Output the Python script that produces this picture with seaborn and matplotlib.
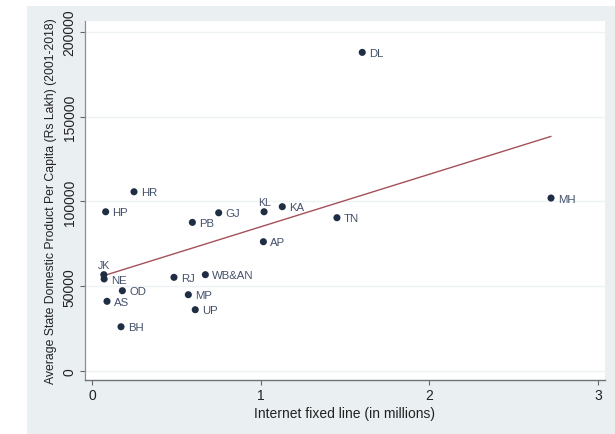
import numpy as np
import pandas as pd
import seaborn as sns
import matplotlib
matplotlib.use("Agg")
import matplotlib.pyplot as plt
from matplotlib.patches import Rectangle

# State-level internet fixed-line subscriptions vs. average per-capita SDP
states = ["DL", "MH", "HR", "HP", "GJ", "PB", "KL", "KA", "AP", "TN",
          "JK", "NE", "RJ", "WB&AN", "OD", "AS", "MP", "UP", "BH"]
internet_fixed = [1.602, 2.721, 0.249, 0.081, 0.751, 0.595, 1.020, 1.128, 1.016, 1.452,
                  0.070, 0.072, 0.486, 0.672, 0.180, 0.089, 0.571, 0.612, 0.172]
avg_sdp = [187900, 102000, 105700, 93900, 93300, 87650, 93900, 96900, 76240, 90400,
           56800, 54300, 55240, 56800, 47350, 41100, 45000, 36150, 26100]
# states whose label sits above the marker instead of to the right
labels_above = ["JK", "KL"]

x_ticks = [0, 1, 2, 3]
y_ticks = [0, 50000, 100000, 150000, 200000]

df = pd.DataFrame({"state": states, "internet": internet_fixed, "sdp": avg_sdp})

sns.set_theme(style="white")
plt.rcParams["font.family"] = ["Liberation Sans", "DejaVu Sans"]

navy = "#1f2d45"
label_color = "#44506a"
fit_color = "#a4505a"
outer_bg = "#eaeff2"

fig = plt.figure(figsize=(6.15, 4.35), dpi=100)
fig.patch.set_facecolor("white")
fig.patches.append(Rectangle((27 / 615, 0), 1 - 27 / 615, 1 - 7 / 435,
                             transform=fig.transFigure, facecolor=outer_bg,
                             edgecolor="none", zorder=-10))

ax = fig.add_axes([85 / 615, 54 / 435, 520 / 615, 359 / 435])
ax.set_facecolor("white")

# horizontal grid lines
for yt in y_ticks:
    ax.axhline(yt, color="#eef2f4", lw=1.0, zorder=0)

sns.scatterplot(data=df, x="internet", y="sdp", ax=ax, color=navy, s=26,
                edgecolor="none", zorder=3)
sns.regplot(data=df, x="internet", y="sdp", ax=ax, scatter=False, ci=None,
            truncate=True, line_kws={"color": fit_color, "lw": 1.0, "zorder": 2})

for s, xv, yv in zip(states, internet_fixed, avg_sdp):
    if s in labels_above:
        ax.annotate(s, (xv, yv), xytext=(0, 3.5), textcoords="offset points",
                    ha="center", va="bottom", fontsize=7.6, color=label_color, zorder=4)
    else:
        ax.annotate(s, (xv, yv), xytext=(5, -0.5), textcoords="offset points",
                    ha="left", va="center", fontsize=8.2, color=label_color, zorder=4)

ax.set_xlim(-0.0415, 3.041)
ax.set_ylim(-5300, 206400)
ax.set_xticks(x_ticks)
ax.set_xticklabels([str(t) for t in x_ticks])
ax.set_yticks(y_ticks)
ax.set_yticklabels([str(t) for t in y_ticks], rotation=90, va="center")

ax.tick_params(axis="both", which="major", length=3.5, width=0.8, color="#666666",
               labelsize=10, labelcolor="#222222", pad=2.5)
ax.tick_params(axis="x", bottom=True)
ax.tick_params(axis="y", left=True)

for side in ["top", "right"]:
    ax.spines[side].set_visible(False)
ax.spines["left"].set_color("#8a8f94")
ax.spines["left"].set_linewidth(0.9)
ax.spines["bottom"].set_color("#6e7378")
ax.spines["bottom"].set_linewidth(1.0)

ax.set_xlabel("Internet fixed line (in millions)", fontsize=10, color="#222222", labelpad=3)
ax.set_ylabel("Average State Domestic Product Per Capita (Rs Lakh) (2001-2018)",
              fontsize=8.8, color="#222222", labelpad=4)

fig.savefig("out.png", dpi=100, facecolor=fig.get_facecolor())
